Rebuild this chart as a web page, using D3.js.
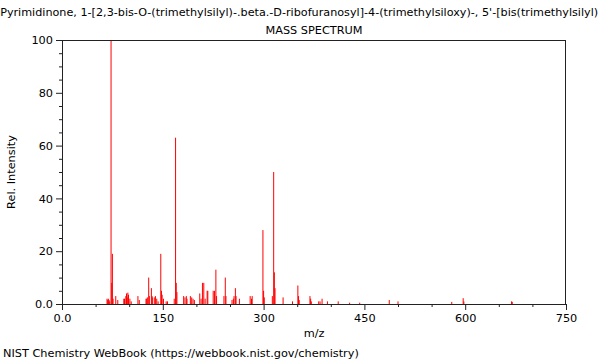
<!DOCTYPE html>
<html>
<head>
<meta charset="utf-8">
<script src="https://cdn.jsdelivr.net/npm/d3@7"></script>
<style>
  body { margin: 0; background: #fff; }
  svg { display: block; }
  text { font-family: "DejaVu Sans", sans-serif; }
</style>
</head>
<body>
<script>
const titleText = "2(1H)-Pyrimidinone, 1-[2,3-bis-O-(trimethylsilyl)-.beta.-D-ribofuranosyl]-4-(trimethylsiloxy)-, 5'-[bis(trimethylsilyl) phosphate]";
const subtitleText = "MASS SPECTRUM";
const footerText = "NIST Chemistry WebBook (https://webbook.nist.gov/chemistry)";
const xLabel = "m/z";
const yLabel = "Rel. Intensity";

const xTickValues = [0, 150, 300, 450, 600, 750];
const xTickLabels = ["0.0", "150", "300", "450", "600", "750"];
const yTickValues = [0, 20, 40, 60, 80, 100];
const yTickLabels = ["0.0", "20", "40", "60", "80", "100"];

const mz = [67, 68, 69, 70, 71, 73, 74, 75, 76, 80, 83, 92, 93, 95, 96, 97, 98, 99, 101, 103,
  113, 115, 125, 126, 127, 129, 130, 133, 134, 135, 138, 139, 141, 143, 147, 148, 149, 151, 155, 157,
  167, 169, 170, 171, 181, 183, 185, 186, 191, 193, 195, 197, 205, 207, 209, 211, 213, 216, 217,
  225, 227, 229, 230, 241, 243, 244, 253, 255, 256, 258, 259, 264, 280, 282, 283,
  299, 300, 301, 313, 315, 316, 317, 329, 343, 351, 352, 353, 369, 370, 371, 382, 384, 387, 395,
  411, 428, 443, 487, 500, 580, 597, 598, 669, 670];
const intensity = [2, 1.5, 2, 1.5, 1, 100, 8, 19, 2, 3, 1.5, 2, 2, 3, 4, 2.5, 4.3, 3.5, 2, 1,
  3, 1.5, 2, 2, 2.5, 10, 3, 6, 3, 2.5, 2.5, 3, 2, 1, 19, 5, 3.5, 2, 1, 1,
  2, 63, 8, 4.5, 3, 2.5, 3, 2, 3, 2.5, 2, 1.5, 4, 2, 8, 8, 2, 5, 5,
  5, 5, 13, 3, 3, 10, 3, 1.5, 2, 3, 6, 3, 2, 3, 2, 3,
  28, 5, 2.5, 3, 50, 12, 6, 2.5, 1, 7, 3, 1.5, 3, 2, 1, 1, 1, 2, 1,
  1, 0.5, 0.5, 1.5, 1, 0.8, 2.2, 1, 1, 0.8];

const W = 600, H = 360;
const margin = { left: 62, right: 34, top: 40, bottom: 56 };
const FS = 11.3;

const svg = d3.select("body").append("svg").attr("width", W).attr("height", H);

const x = d3.scaleLinear().domain([0, 750]).range([margin.left, W - margin.right]);
const y = d3.scaleLinear().domain([0, 100]).range([H - margin.bottom, margin.top]);

const axisColor = "#222";

// peaks
svg.append("g").selectAll("line").data(mz).join("line")
  .attr("x1", d => x(d)).attr("x2", d => x(d))
  .attr("y1", y(0)).attr("y2", (d, i) => y(intensity[i]))
  .attr("stroke", "#ff0000").attr("stroke-width", 1);

// frame top and right
svg.append("line").attr("x1", x(0)).attr("x2", x(750)).attr("y1", y(100) + 0.5).attr("y2", y(100) + 0.5)
  .attr("stroke", axisColor);
svg.append("line").attr("x1", x(750) - 0.5).attr("x2", x(750) - 0.5).attr("y1", y(100)).attr("y2", y(0))
  .attr("stroke", axisColor);

// x minor ticks
const xMinor = d3.range(0, 751, 50).filter(v => !xTickValues.includes(v));
svg.append("g").attr("transform", `translate(0,${y(0)})`)
  .call(d3.axisBottom(x).tickValues(xMinor).tickSize(3).tickFormat(""))
  .call(g => g.select(".domain").remove())
  .selectAll("line").attr("stroke", axisColor);
// x major
const gx = svg.append("g").attr("transform", `translate(0,${y(0)})`)
  .call(d3.axisBottom(x).tickValues(xTickValues).tickSize(6).tickSizeOuter(0).tickPadding(4)
    .tickFormat((d, i) => xTickLabels[i]));
gx.selectAll("line,path").attr("stroke", axisColor);
gx.selectAll("text").attr("font-size", FS).attr("fill", "#000").attr("font-family", "DejaVu Sans");

// y minor
const yMinor = d3.range(0, 101, 5).filter(v => !yTickValues.includes(v));
svg.append("g").attr("transform", `translate(${x(0)},0)`)
  .call(d3.axisLeft(y).tickValues(yMinor).tickSize(3).tickFormat(""))
  .call(g => g.select(".domain").remove())
  .selectAll("line").attr("stroke", axisColor);
const gy = svg.append("g").attr("transform", `translate(${x(0)},0)`)
  .call(d3.axisLeft(y).tickValues(yTickValues).tickSize(6).tickSizeOuter(0).tickPadding(3)
    .tickFormat((d, i) => yTickLabels[i]));
gy.selectAll("line,path").attr("stroke", axisColor);
gy.selectAll("text").attr("font-size", FS).attr("fill", "#000").attr("font-family", "DejaVu Sans");

const cx = (x(0) + x(750)) / 2;
svg.append("text").attr("x", cx + 1).attr("y", 16).attr("text-anchor", "middle")
  .attr("font-size", 11.2).text(titleText);
svg.append("text").attr("x", cx).attr("y", 34).attr("text-anchor", "middle")
  .attr("font-size", FS).text(subtitleText);
svg.append("text").attr("x", cx).attr("y", 337).attr("text-anchor", "middle")
  .attr("font-size", FS).text(xLabel);
svg.append("text").attr("transform", `translate(15,${(y(0) + y(100)) / 2}) rotate(-90)`)
  .attr("text-anchor", "middle").attr("font-size", FS).text(yLabel);
svg.append("text").attr("x", 3).attr("y", 357).attr("font-size", FS).text(footerText);
</script>
</body>
</html>
